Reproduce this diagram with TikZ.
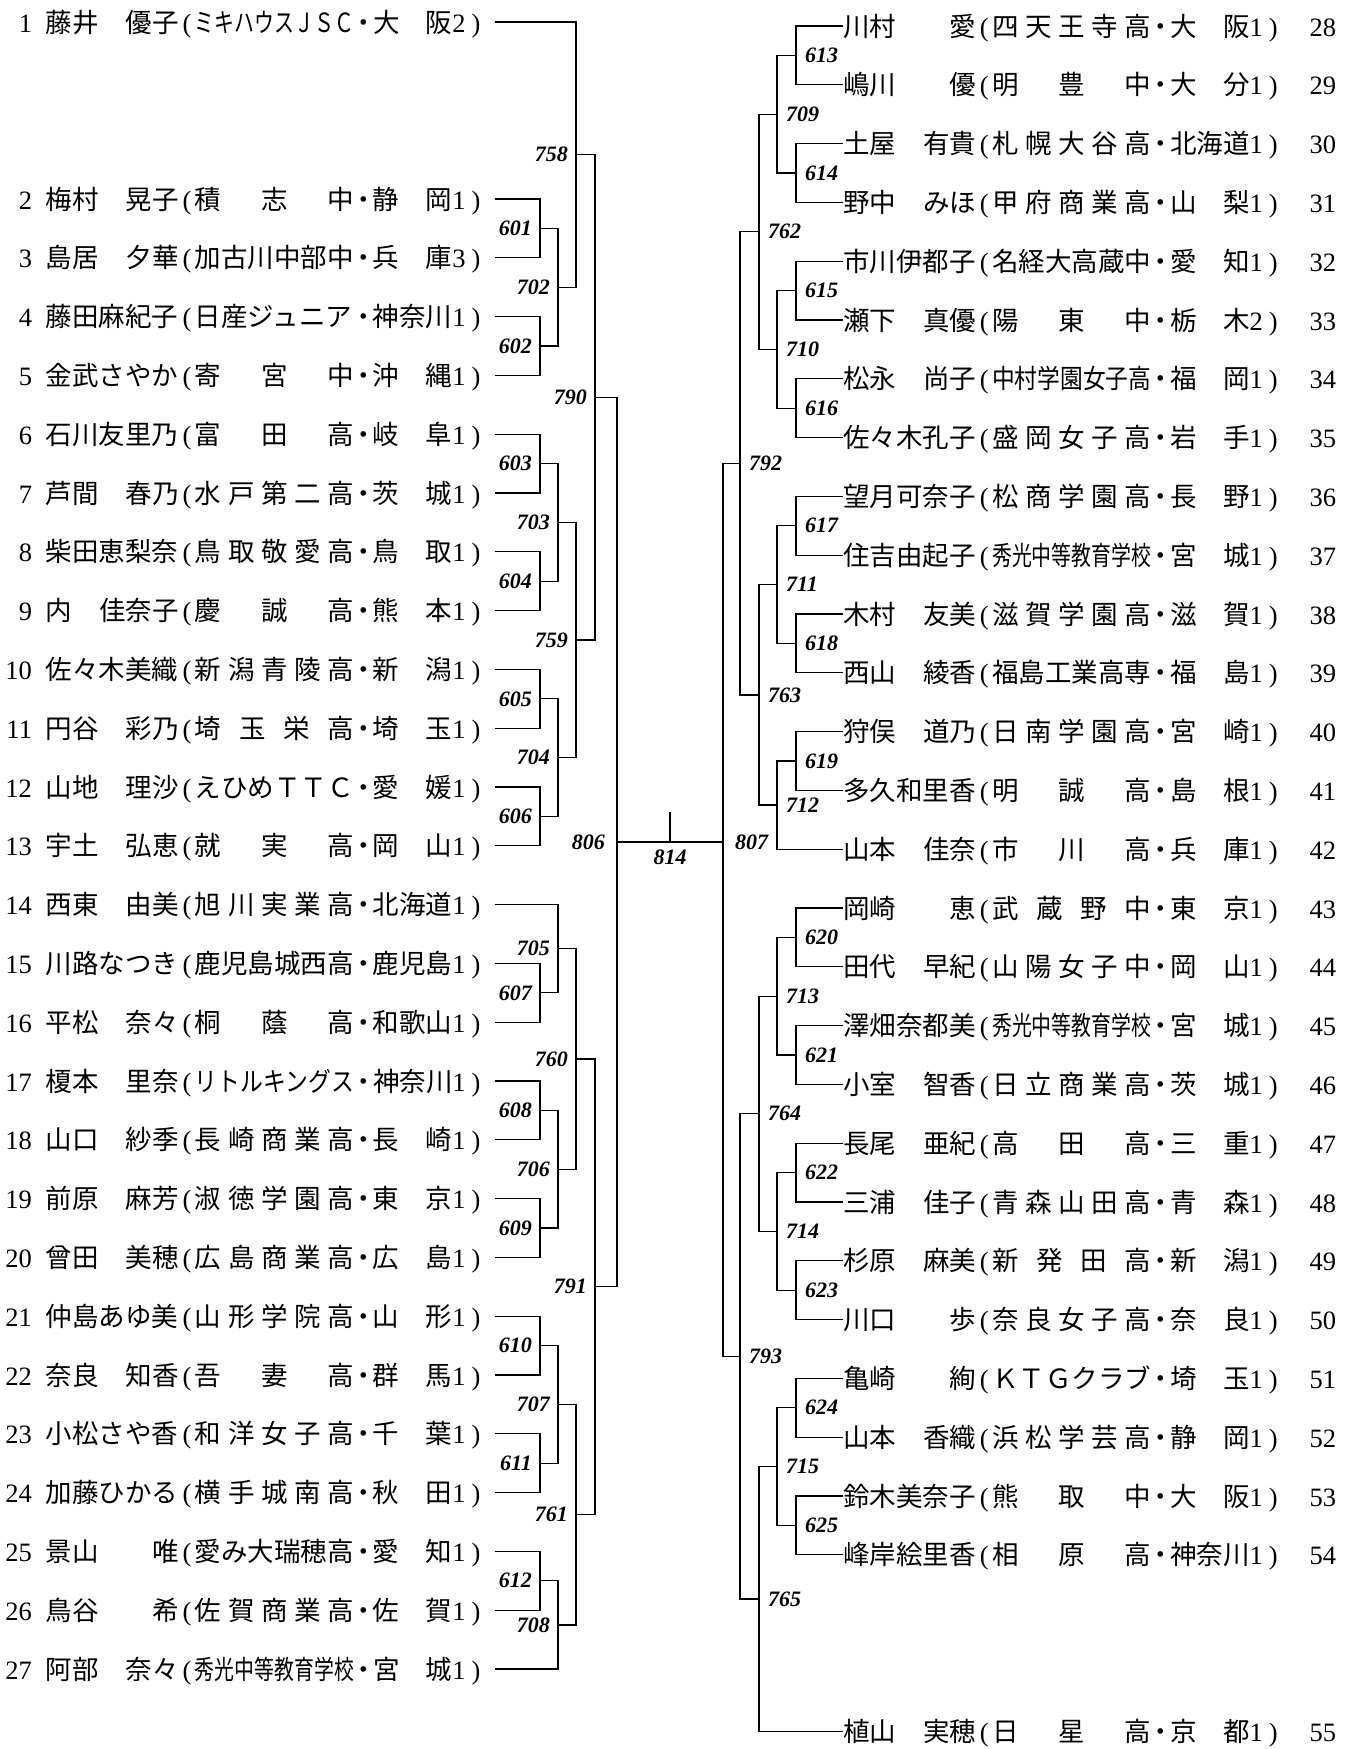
\documentclass[tikz,border=0pt]{standalone}
\usepackage{fontspec}
\usepackage{graphicx}
\setmainfont{Liberation Serif}
\newfontfamily\jp{Noto Sans CJK JP}
\usetikzlibrary{calc}
\tikzset{
  lent/.style = {anchor=west, inner sep=0pt, outer xsep=8pt, text height=23pt, text depth=3pt, font=\fontsize{26.5}{30}\selectfont},
  rent/.style = {anchor=west, inner sep=0pt, text height=23pt, text depth=3pt, font=\fontsize{26.5}{30}\selectfont},
  wire/.style = {line width=1.3pt},
  lno/.style = {inner sep=0pt, font=\fontsize{22}{22}\selectfont\bfseries\itshape},
}
\newcommand\sq[1]{\resizebox{159pt}{\height}{#1}}
\newcommand\ent[4]{\makebox[133pt][s]{\jp #1}\makebox[16pt]{(}\makebox[159pt][s]{\jp #2}\makebox[19pt]{\jp ・}\makebox[79.5pt][s]{\jp #3}\makebox[13pt]{#4}\makebox[21pt]{)}}
\newcommand\seed[1]{\makebox[24pt][r]{#1}\hspace{14pt}}
\newcommand\pairup[4]{\draw[wire] (#1) -- (#1 -| #3) -- (#2 -| #3) -- (#2); \coordinate (#4) at ($(#1 -| #3)!.5!(#2 -| #3)$);}

\begin{document}
\begin{tikzpicture}[x=1pt, y=-1pt]
    \useasboundingbox (0,0) rectangle (1361,1749);

    % Columns of the bracket
    \coordinate (L6) at (540,0);
    \coordinate (L7) at (558,0);
    \coordinate (L75) at (576,0);
    \coordinate (L79) at (595,0);
    \coordinate (L80) at (617,0);
    \coordinate (R807) at (723,0);
    \coordinate (R79) at (740,0);
    \coordinate (R76) at (759,0);
    \coordinate (R7) at (777,0);
    \coordinate (R6) at (796,0);

    % Left players
    \node (p1) [lent] at (0,22) {\seed{1}\ent{藤井 優子}{\sq{ミキハウスＪＳＣ}}{大 阪}{2}};
    \node (p2) [lent] at (0,199.0) {\seed{2}\ent{梅村 晃子}{積 志 中}{静 岡}{1}};
    \node (p3) [lent] at (0,257.8) {\seed{3}\ent{島居 夕華}{加古川中部中}{兵 庫}{3}};
    \node (p4) [lent] at (0,316.6) {\seed{4}\ent{藤田麻紀子}{日産ジュニア}{神奈川}{1}};
    \node (p5) [lent] at (0,375.4) {\seed{5}\ent{金武さやか}{寄 宮 中}{沖 縄}{1}};
    \node (p6) [lent] at (0,434.2) {\seed{6}\ent{石川友里乃}{富 田 高}{岐 阜}{1}};
    \node (p7) [lent] at (0,493.0) {\seed{7}\ent{芦間 春乃}{水 戸 第 二 高}{茨 城}{1}};
    \node (p8) [lent] at (0,551.8) {\seed{8}\ent{柴田恵梨奈}{鳥 取 敬 愛 高}{鳥 取}{1}};
    \node (p9) [lent] at (0,610.6) {\seed{9}\ent{内 佳奈子}{慶 誠 高}{熊 本}{1}};
    \node (p10) [lent] at (0,669.4) {\seed{10}\ent{佐々木美織}{新 潟 青 陵 高}{新 潟}{1}};
    \node (p11) [lent] at (0,728.2) {\seed{11}\ent{円谷 彩乃}{埼 玉 栄 高}{埼 玉}{1}};
    \node (p12) [lent] at (0,787.0) {\seed{12}\ent{山地 理沙}{えひめＴＴＣ}{愛 媛}{1}};
    \node (p13) [lent] at (0,845.8) {\seed{13}\ent{宇土 弘恵}{就 実 高}{岡 山}{1}};
    \node (p14) [lent] at (0,904.6) {\seed{14}\ent{西東 由美}{旭 川 実 業 高}{北海道}{1}};
    \node (p15) [lent] at (0,963.4) {\seed{15}\ent{川路なつき}{鹿児島城西高}{鹿児島}{1}};
    \node (p16) [lent] at (0,1022.2) {\seed{16}\ent{平松 奈々}{桐 蔭 高}{和歌山}{1}};
    \node (p17) [lent] at (0,1081.0) {\seed{17}\ent{榎本 里奈}{\sq{リトルキングス}}{神奈川}{1}};
    \node (p18) [lent] at (0,1139.8) {\seed{18}\ent{山口 紗季}{長 崎 商 業 高}{長 崎}{1}};
    \node (p19) [lent] at (0,1198.6) {\seed{19}\ent{前原 麻芳}{淑 徳 学 園 高}{東 京}{1}};
    \node (p20) [lent] at (0,1257.4) {\seed{20}\ent{曾田 美穂}{広 島 商 業 高}{広 島}{1}};
    \node (p21) [lent] at (0,1316.2) {\seed{21}\ent{仲島あゆ美}{山 形 学 院 高}{山 形}{1}};
    \node (p22) [lent] at (0,1375.0) {\seed{22}\ent{奈良 知香}{吾 妻 高}{群 馬}{1}};
    \node (p23) [lent] at (0,1433.8) {\seed{23}\ent{小松さや香}{和 洋 女 子 高}{千 葉}{1}};
    \node (p24) [lent] at (0,1492.6) {\seed{24}\ent{加藤ひかる}{横 手 城 南 高}{秋 田}{1}};
    \node (p25) [lent] at (0,1551.4) {\seed{25}\ent{景山 唯}{愛み大瑞穂高}{愛 知}{1}};
    \node (p26) [lent] at (0,1610.2) {\seed{26}\ent{鳥谷 希}{佐 賀 商 業 高}{佐 賀}{1}};
    \node (p27) [lent] at (0,1669.0) {\seed{27}\ent{阿部 奈々}{\sq{秀光中等教育学校}}{宮 城}{1}};

    % Right players
    \node (q28) [rent] at (843,26.0) {\ent{川村 愛}{四 天 王 寺 高}{大 阪}{1}\hspace{26pt}28};
    \node (q29) [rent] at (843,84.8) {\ent{嶋川 優}{明 豊 中}{大 分}{1}\hspace{26pt}29};
    \node (q30) [rent] at (843,143.6) {\ent{土屋 有貴}{札 幌 大 谷 高}{北海道}{1}\hspace{26pt}30};
    \node (q31) [rent] at (843,202.4) {\ent{野中 みほ}{甲 府 商 業 高}{山 梨}{1}\hspace{26pt}31};
    \node (q32) [rent] at (843,261.2) {\ent{市川伊都子}{名経大高蔵中}{愛 知}{1}\hspace{26pt}32};
    \node (q33) [rent] at (843,320.0) {\ent{瀬下 真優}{陽 東 中}{栃 木}{2}\hspace{26pt}33};
    \node (q34) [rent] at (843,378.8) {\ent{松永 尚子}{\sq{中村学園女子高}}{福 岡}{1}\hspace{26pt}34};
    \node (q35) [rent] at (843,437.6) {\ent{佐々木孔子}{盛 岡 女 子 高}{岩 手}{1}\hspace{26pt}35};
    \node (q36) [rent] at (843,496.4) {\ent{望月可奈子}{松 商 学 園 高}{長 野}{1}\hspace{26pt}36};
    \node (q37) [rent] at (843,555.2) {\ent{住吉由起子}{\sq{秀光中等教育学校}}{宮 城}{1}\hspace{26pt}37};
    \node (q38) [rent] at (843,614.0) {\ent{木村 友美}{滋 賀 学 園 高}{滋 賀}{1}\hspace{26pt}38};
    \node (q39) [rent] at (843,672.8) {\ent{西山 綾香}{福島工業高専}{福 島}{1}\hspace{26pt}39};
    \node (q40) [rent] at (843,731.6) {\ent{狩俣 道乃}{日 南 学 園 高}{宮 崎}{1}\hspace{26pt}40};
    \node (q41) [rent] at (843,790.4) {\ent{多久和里香}{明 誠 高}{島 根}{1}\hspace{26pt}41};
    \node (q42) [rent] at (843,849.2) {\ent{山本 佳奈}{市 川 高}{兵 庫}{1}\hspace{26pt}42};
    \node (q43) [rent] at (843,908.0) {\ent{岡崎 恵}{武 蔵 野 中}{東 京}{1}\hspace{26pt}43};
    \node (q44) [rent] at (843,966.8) {\ent{田代 早紀}{山 陽 女 子 中}{岡 山}{1}\hspace{26pt}44};
    \node (q45) [rent] at (843,1025.6) {\ent{澤畑奈都美}{\sq{秀光中等教育学校}}{宮 城}{1}\hspace{26pt}45};
    \node (q46) [rent] at (843,1084.4) {\ent{小室 智香}{日 立 商 業 高}{茨 城}{1}\hspace{26pt}46};
    \node (q47) [rent] at (843,1143.2) {\ent{長尾 亜紀}{高 田 高}{三 重}{1}\hspace{26pt}47};
    \node (q48) [rent] at (843,1202.0) {\ent{三浦 佳子}{青 森 山 田 高}{青 森}{1}\hspace{26pt}48};
    \node (q49) [rent] at (843,1260.8) {\ent{杉原 麻美}{新 発 田 高}{新 潟}{1}\hspace{26pt}49};
    \node (q50) [rent] at (843,1319.6) {\ent{川口 歩}{奈 良 女 子 高}{奈 良}{1}\hspace{26pt}50};
    \node (q51) [rent] at (843,1378.4) {\ent{亀崎 絢}{ＫＴＧクラブ}{埼 玉}{1}\hspace{26pt}51};
    \node (q52) [rent] at (843,1437.2) {\ent{山本 香織}{浜 松 学 芸 高}{静 岡}{1}\hspace{26pt}52};
    \node (q53) [rent] at (843,1496.0) {\ent{鈴木美奈子}{熊 取 中}{大 阪}{1}\hspace{26pt}53};
    \node (q54) [rent] at (843,1554.8) {\ent{峰岸絵里香}{相 原 高}{神奈川}{1}\hspace{26pt}54};
    \node (q55) [rent] at (843,1731.2) {\ent{植山 実穂}{日 星 高}{京 都}{1}\hspace{26pt}55};

    % Left bracket
    \pairup{p2.east}{p3.east}{L6}{j601}
    \pairup{p4.east}{p5.east}{L6}{j602}
    \pairup{j601}{j602}{L7}{j702}
    \pairup{p1.east}{j702}{L75}{j758}
    \pairup{p6.east}{p7.east}{L6}{j603}
    \pairup{p8.east}{p9.east}{L6}{j604}
    \pairup{j603}{j604}{L7}{j703}
    \pairup{p10.east}{p11.east}{L6}{j605}
    \pairup{p12.east}{p13.east}{L6}{j606}
    \pairup{j605}{j606}{L7}{j704}
    \pairup{j703}{j704}{L75}{j759}
    \pairup{j758}{j759}{L79}{j790}
    \pairup{p15.east}{p16.east}{L6}{j607}
    \pairup{p14.east}{j607}{L7}{j705}
    \pairup{p17.east}{p18.east}{L6}{j608}
    \pairup{p19.east}{p20.east}{L6}{j609}
    \pairup{j608}{j609}{L7}{j706}
    \pairup{j705}{j706}{L75}{j760}
    \pairup{p21.east}{p22.east}{L6}{j610}
    \pairup{p23.east}{p24.east}{L6}{j611}
    \pairup{j610}{j611}{L7}{j707}
    \pairup{p25.east}{p26.east}{L6}{j612}
    \pairup{j612}{p27.east}{L7}{j708}
    \pairup{j707}{j708}{L75}{j761}
    \pairup{j760}{j761}{L79}{j791}
    \pairup{j790}{j791}{L80}{j806}

    % Right bracket
    \pairup{q28.west}{q29.west}{R6}{j613}
    \pairup{q30.west}{q31.west}{R6}{j614}
    \pairup{j613}{j614}{R7}{j709}
    \pairup{q32.west}{q33.west}{R6}{j615}
    \pairup{q34.west}{q35.west}{R6}{j616}
    \pairup{j615}{j616}{R7}{j710}
    \pairup{j709}{j710}{R76}{j762}
    \pairup{q36.west}{q37.west}{R6}{j617}
    \pairup{q38.west}{q39.west}{R6}{j618}
    \pairup{j617}{j618}{R7}{j711}
    \pairup{q40.west}{q41.west}{R6}{j619}
    \pairup{j619}{q42.west}{R7}{j712}
    \pairup{j711}{j712}{R76}{j763}
    \pairup{j762}{j763}{R79}{j792}
    \pairup{q43.west}{q44.west}{R6}{j620}
    \pairup{q45.west}{q46.west}{R6}{j621}
    \pairup{j620}{j621}{R7}{j713}
    \pairup{q47.west}{q48.west}{R6}{j622}
    \pairup{q49.west}{q50.west}{R6}{j623}
    \pairup{j622}{j623}{R7}{j714}
    \pairup{j713}{j714}{R76}{j764}
    \pairup{q51.west}{q52.west}{R6}{j624}
    \pairup{q53.west}{q54.west}{R6}{j625}
    \pairup{j624}{j625}{R7}{j715}
    \pairup{j715}{q55.west}{R76}{j765}
    \pairup{j764}{j765}{R79}{j793}
    \pairup{j792}{j793}{R807}{j807m}

    % Final
    \coordinate (j807) at (j806 -| R807);
    \coordinate (c814) at ($(j806)!.5!(j807)$);
    \draw[wire] (j806) -- (j807);
    \draw[wire] (c814) -- ++(0,-30);

    % Match numbers
    \foreach \m in {601,602,603,604,605,606,607,608,609,610,611,612,
                    702,703,704,705,706,707,708,758,759,760,761,790,791}
        \node (n\m) [lno, anchor=east] at ([xshift=-8pt]j\m) {\m};
    \foreach \m in {613,614,615,616,617,618,619,620,621,622,623,624,625,
                    709,710,711,712,713,714,715,762,763,764,765,792,793}
        \node (n\m) [lno, anchor=west] at ([xshift=9pt]j\m) {\m};
    \node (n806) [lno, anchor=east] at ([xshift=-12pt]j806) {806};
    \node (n807) [lno, anchor=west] at ([xshift=12pt]j807) {807};
    \node (n814) [lno, anchor=north] at ([yshift=-8pt]c814) {814};

\end{tikzpicture}
\end{document}
